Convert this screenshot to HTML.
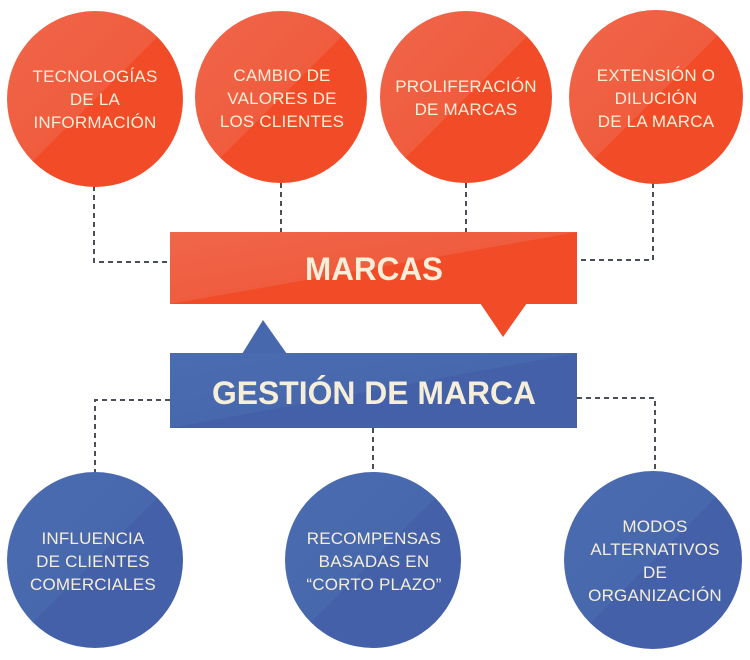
<!DOCTYPE html>
<html><head><meta charset="utf-8"><style>
html,body{margin:0;padding:0;background:#fff}
svg{display:block}
text{font-family:"Liberation Sans",sans-serif;fill:#f5eed8;text-anchor:middle}
.c{font-size:17px;letter-spacing:0.2px}
.b{font-size:32px;font-weight:bold}
</style></head><body>
<svg width="750" height="660" viewBox="0 0 750 660" xmlns="http://www.w3.org/2000/svg">
<defs>
<linearGradient id="o" x1="0" y1="0" x2="1" y2="1">
<stop offset="0" stop-color="#f0664a"/><stop offset="0.5" stop-color="#f05c3e"/><stop offset="0.5" stop-color="#f14b27"/><stop offset="1" stop-color="#f14b27"/>
</linearGradient>
<linearGradient id="bl" x1="0" y1="0" x2="1" y2="1">
<stop offset="0" stop-color="#4b6cb0"/><stop offset="0.5" stop-color="#4868ae"/><stop offset="0.5" stop-color="#4360a9"/><stop offset="1" stop-color="#4360a9"/>
</linearGradient>
</defs>
<g stroke="#4a4f57" stroke-width="2" stroke-dasharray="5,4" fill="none">
<path d="M94 186 V262 H170"/>
<path d="M281 183 V232"/>
<path d="M466 183 V232"/>
<path d="M653 183 V260 H577"/>
<path d="M170 400 H95 V472"/>
<path d="M373 428 V472"/>
<path d="M577 398 H655 V472"/>
</g>
<circle cx="95" cy="99" r="88" fill="url(#o)"/>
<circle cx="281" cy="97" r="86" fill="url(#o)"/>
<circle cx="466" cy="97" r="86" fill="url(#o)"/>
<circle cx="656" cy="97" r="87" fill="url(#o)"/>
<text class="c"><tspan x="95" y="82">TECNOLOGÍAS</tspan><tspan x="95" y="105">DE LA</tspan><tspan x="95" y="128">INFORMACIÓN</tspan></text>
<text class="c"><tspan x="282" y="81">CAMBIO DE</tspan><tspan x="282" y="104">VALORES DE</tspan><tspan x="282" y="127">LOS CLIENTES</tspan></text>
<text class="c"><tspan x="466" y="92">PROLIFERACIÓN</tspan><tspan x="466" y="115">DE MARCAS</tspan></text>
<text class="c"><tspan x="656" y="81">EXTENSIÓN O</tspan><tspan x="656" y="104">DILUCIÓN</tspan><tspan x="656" y="127">DE LA MARCA</tspan></text>
<rect x="170" y="232" width="407" height="72" fill="url(#o)"/>
<polygon points="480,303 527,303 503,337" fill="#f14b27"/>
<text class="b" x="374" y="280" textLength="138" lengthAdjust="spacingAndGlyphs">MARCAS</text>
<polygon points="242,354 287,354 263,320" fill="#4868ae"/>
<rect x="170" y="353" width="407" height="75" fill="url(#bl)"/>
<text class="b" x="374" y="404" textLength="324" lengthAdjust="spacingAndGlyphs">GESTIÓN DE MARCA</text>
<circle cx="95" cy="560" r="88" fill="url(#bl)"/>
<circle cx="373" cy="560" r="88" fill="url(#bl)"/>
<circle cx="653" cy="560" r="89" fill="url(#bl)"/>
<text class="c"><tspan x="93" y="544">INFLUENCIA</tspan><tspan x="93" y="567">DE CLIENTES</tspan><tspan x="93" y="590">COMERCIALES</tspan></text>
<text class="c"><tspan x="374" y="544">RECOMPENSAS</tspan><tspan x="374" y="567">BASADAS EN</tspan><tspan x="374" y="590">“CORTO PLAZO”</tspan></text>
<text class="c"><tspan x="655" y="532">MODOS</tspan><tspan x="655" y="555">ALTERNATIVOS</tspan><tspan x="655" y="578">DE</tspan><tspan x="655" y="601">ORGANIZACIÓN</tspan></text>
</svg>
</body></html>
